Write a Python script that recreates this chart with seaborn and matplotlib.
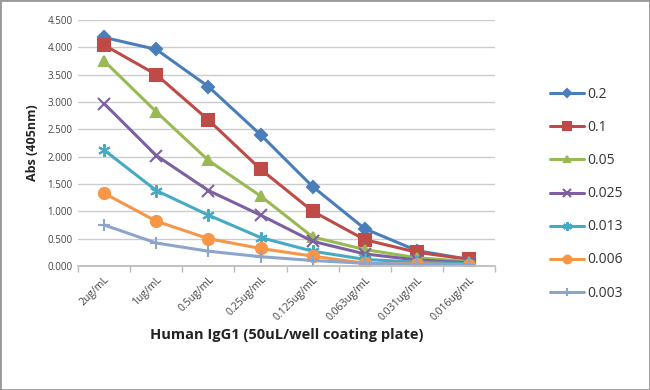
import pandas as pd
import numpy as np
import matplotlib.pyplot as plt
import seaborn as sns

sns.set_theme(style="white")
plt.rcParams['font.family'] = ['Open Sans', 'DejaVu Sans']

# categories on x axis
concentrations = ['2ug/mL', '1ug/mL', '0.5ug/mL', '0.25ug/mL', '0.125ug/mL',
                  '0.063ug/mL', '0.031ug/mL', '0.016ug/mL']

# series (detection antibody dilution) and absorbance values
s_02 = [4.18, 3.96, 3.28, 2.40, 1.45, 0.68, 0.28, 0.12]
s_01 = [4.04, 3.50, 2.67, 1.77, 1.00, 0.48, 0.25, 0.12]
s_005 = [3.75, 2.82, 1.93, 1.28, 0.53, 0.30, 0.15, 0.08]
s_0025 = [2.97, 2.02, 1.38, 0.93, 0.45, 0.22, 0.11, 0.06]
s_0013 = [2.12, 1.38, 0.93, 0.52, 0.27, 0.12, 0.07, 0.04]
s_0006 = [1.33, 0.82, 0.50, 0.32, 0.18, 0.05, 0.04, 0.02]
s_0003 = [0.75, 0.42, 0.27, 0.17, 0.10, 0.05, 0.03, 0.02]

series_names = ['0.2', '0.1', '0.05', '0.025', '0.013', '0.006', '0.003']
series_vals = [s_02, s_01, s_005, s_0025, s_0013, s_0006, s_0003]

colors = ['#4A7EBB', '#BE4B48', '#98B954', '#7D60A0', '#46AAC5', '#F79646', '#8EA5CB']
markers = ['D', 's', '^', 'x', (6, 2, 0), 'o', '+']
msizes = [6, 8, 7, 8, 9, 8, 9]

rows = []
for name, vals in zip(series_names, series_vals):
    for i, v in enumerate(vals):
        rows.append({'pos': i, 'Abs': v, 'series': name})
df = pd.DataFrame(rows)

fig = plt.figure(figsize=(6.5, 3.9), dpi=100)
ax = fig.add_axes([0.12, 0.318, 0.642, 0.631])

for name, c, m, ms in zip(series_names, colors, markers, msizes):
    sub = df[df['series'] == name]
    sns.lineplot(data=sub, x='pos', y='Abs', ax=ax, color=c, marker=m,
                 markersize=ms, linewidth=2.2, label=name,
                 markeredgecolor=c, markeredgewidth=1.5)

ax.set_xlim(-0.5, 7.5)
ax.set_ylim(0, 4.5)
ax.set_yticks(np.arange(0, 4.51, 0.5))
ax.set_yticklabels([f'{v:.3f}' for v in np.arange(0, 4.51, 0.5)], fontsize=7, color='#444444')
ax.set_xticks(range(8))
ax.set_xticklabels(concentrations, rotation=45, ha='right', rotation_mode='anchor',
                   fontsize=7.5, color='#444444')
ax.tick_params(axis='x', length=0, pad=6)
ax.tick_params(axis='y', length=0, pad=4)
ax.set_xticks(np.arange(-0.5, 8, 1), minor=True)
ax.tick_params(axis='x', which='minor', length=4, color='#BBBBBB', direction='out', bottom=True)

ax.yaxis.grid(True, color='#CCCCCC', linewidth=1)
ax.set_axisbelow(True)
for side in ['top', 'right', 'left']:
    ax.spines[side].set_visible(False)
ax.spines['bottom'].set_color('#BBBBBB')

ax.set_xlabel('Human IgG1 (50uL/well coating plate)', fontsize=10.5, fontweight='bold',
              color='#222222', labelpad=4)
ax.set_ylabel('Abs (405nm)', fontsize=9, fontweight='bold', color='#222222', labelpad=6)

ax.legend(loc='center left', bbox_to_anchor=(1.10, 0.293), frameon=False, fontsize=10,
          labelspacing=1.3, handlelength=2.5, handletextpad=0.2, markerscale=0.7,
          labelcolor='#333333')

fig.patches.append(plt.Rectangle((0, 0), 1, 1, transform=fig.transFigure, fill=False,
                                 edgecolor='#999999', linewidth=2))

plt.savefig('out.png', dpi=100)
